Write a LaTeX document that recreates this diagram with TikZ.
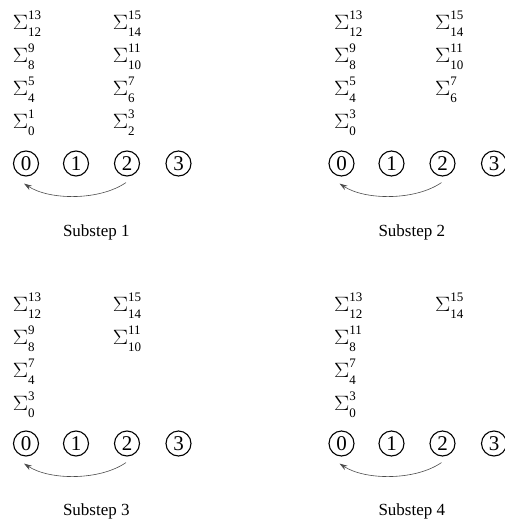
\documentclass[tikz,border=0pt]{standalone}
\usepackage{fontspec}
\setmainfont{Liberation Serif}
\usetikzlibrary{arrows.meta}
\newcommand\sgterm[2]{\fontsize{21}{21}\selectfont\scalebox{1.1}[1]{$\Sigma$}\rlap{\raisebox{10pt}{\fontsize{13}{13}\selectfont #1}}\raisebox{-7.4pt}{\fontsize{13}{13}\selectfont #2}}
\begin{document}
\begin{tikzpicture}[x=1pt,y=-1pt,
  circ/.style={draw,circle,minimum size=25pt,inner sep=0pt,line width=1.1pt,font=\fontsize{21}{21}\selectfont},
  sterm/.style={anchor=base west,inner sep=0pt},
  lbl/.style={anchor=base,inner sep=0pt,font=\fontsize{17}{17}\selectfont},
  arr/.style={draw=black!70,line width=0.6pt,-{Stealth[length=8pt,width=5pt]}}]
\useasboundingbox (0,0) rectangle (505,519);
% Panel 1
\begin{scope}
  \foreach \i/\x in {0/26,1/76,2/127,3/178.5} \node[circ] (a\i) at (\x,163.5) {\i};
  \draw[arr] ([xshift=-1pt,yshift=-6pt]a2.south) .. controls +(-26,18) and +(26,17) .. ([xshift=-2pt,yshift=-7pt]a0.south);
  \node[lbl] (la) at (96.3,236.7) {Substep 1};
  \node[sterm] (a11) at (12.7,29.5) {\sgterm{13}{12}};
  \node[sterm] (a12) at (12.7,62.5) {\sgterm{9}{8}};
  \node[sterm] (a13) at (12.7,95.5) {\sgterm{5}{4}};
  \node[sterm] (a14) at (12.7,128.5) {\sgterm{1}{0}};
  \node[sterm] (a21) at (112.7,29.5) {\sgterm{15}{14}};
  \node[sterm] (a22) at (112.7,62.5) {\sgterm{11}{10}};
  \node[sterm] (a23) at (112.7,95.5) {\sgterm{7}{6}};
  \node[sterm] (a24) at (112.7,128.5) {\sgterm{3}{2}};
\end{scope}
% Panel 2
\begin{scope}[shift={(315.5,0)}]
  \foreach \i/\x in {0/26,1/76,2/127,3/178.5} \node[circ] (b\i) at (\x,163.5) {\i};
  \draw[arr] ([xshift=-1pt,yshift=-6pt]b2.south) .. controls +(-26,18) and +(26,17) .. ([xshift=-2pt,yshift=-7pt]b0.south);
  \node[lbl] (lb) at (96.3,236.7) {Substep 2};
  \node[sterm] (b11) at (18.5,29.5) {\sgterm{13}{12}};
  \node[sterm] (b12) at (18.5,62.5) {\sgterm{9}{8}};
  \node[sterm] (b13) at (18.5,95.5) {\sgterm{5}{4}};
  \node[sterm] (b14) at (18.5,128.5) {\sgterm{3}{0}};
  \node[sterm] (b21) at (119.5,29.5) {\sgterm{15}{14}};
  \node[sterm] (b22) at (119.5,62.5) {\sgterm{11}{10}};
  \node[sterm] (b23) at (119.5,95.5) {\sgterm{7}{6}};
\end{scope}
% Panel 3
\begin{scope}[shift={(0,280)}]
  \foreach \i/\x in {0/26,1/76,2/127,3/178.5} \node[circ] (c\i) at (\x,163.5) {\i};
  \draw[arr] ([xshift=-1pt,yshift=-6pt]c2.south) .. controls +(-26,18) and +(26,17) .. ([xshift=-2pt,yshift=-7pt]c0.south);
  \node[lbl] (lc) at (96.3,235) {Substep 3};
  \node[sterm] (c11) at (12.7,31.5) {\sgterm{13}{12}};
  \node[sterm] (c12) at (12.7,64.5) {\sgterm{9}{8}};
  \node[sterm] (c13) at (12.7,97.5) {\sgterm{7}{4}};
  \node[sterm] (c14) at (12.7,130.5) {\sgterm{3}{0}};
  \node[sterm] (c21) at (112.7,31.5) {\sgterm{15}{14}};
  \node[sterm] (c22) at (112.7,64.5) {\sgterm{11}{10}};
\end{scope}
% Panel 4
\begin{scope}[shift={(315.5,280)}]
  \foreach \i/\x in {0/26,1/76,2/127,3/178.5} \node[circ] (d\i) at (\x,163.5) {\i};
  \draw[arr] ([xshift=-1pt,yshift=-6pt]d2.south) .. controls +(-26,18) and +(26,17) .. ([xshift=-2pt,yshift=-7pt]d0.south);
  \node[lbl] (ld) at (96.3,235) {Substep 4};
  \node[sterm] (d11) at (18.5,31.5) {\sgterm{13}{12}};
  \node[sterm] (d12) at (18.5,64.5) {\sgterm{11}{8}};
  \node[sterm] (d13) at (18.5,97.5) {\sgterm{7}{4}};
  \node[sterm] (d14) at (18.5,130.5) {\sgterm{3}{0}};
  \node[sterm] (d21) at (119.5,31.5) {\sgterm{15}{14}};
\end{scope}
\end{tikzpicture}
\end{document}
